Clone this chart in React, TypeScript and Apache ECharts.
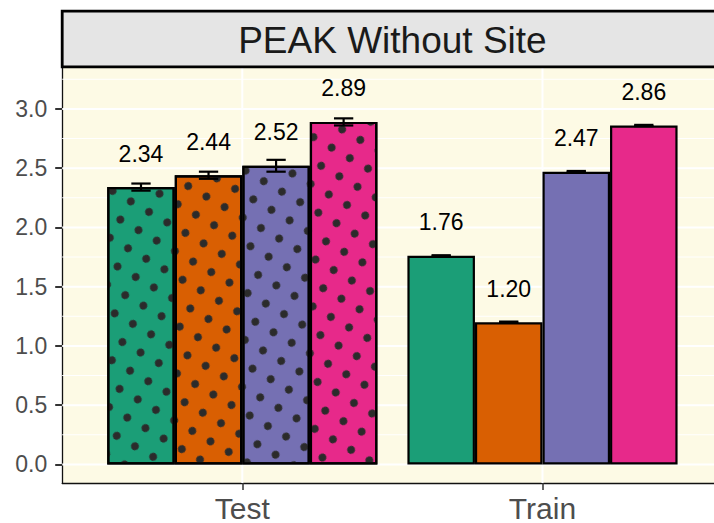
import React, { useEffect, useRef } from 'react';
import * as echarts from 'echarts';

// ---- data ----
const categories = ['Test', 'Train'];
const categoryPositions = [1, 2];
const groupNames = ['Group 1', 'Group 2', 'Group 3', 'Group 4'];
const group1Values = [2.34, 1.76];
const group2Values = [2.44, 1.2];
const group3Values = [2.52, 2.47];
const group4Values = [2.89, 2.86];
const group1Errors = [0.03, 0.005];
const group2Errors = [0.03, 0.005];
const group3Errors = [0.05, 0.006];
const group4Errors = [0.03, 0.005];
const yMajorTicks = [0, 0.5, 1, 1.5, 2, 2.5, 3];
const yMinorTicks = [0.25, 0.75, 1.25, 1.75, 2.25, 2.75, 3.25];
const patternedCategory = 'Test';
const stripTitle = 'PEAK Without Site';

// ---- styling ----
const colors = ['#1B9E77', '#D95F02', '#7570B3', '#E7298A'];
const FONT = "'Liberation Sans', Arial, Helvetica, sans-serif";
const X_MIN = 0.4;
const X_MAX = 2.6;
const Y_MIN = -0.157;
const Y_MAX = 3.345;
const BAR_FRACTION = 0.225;
const PANEL_LEFT = 62.2;
const PANEL_TOP = 68;
const PANEL_WIDTH = 660.4;
const PANEL_HEIGHT = 416;

const allValues = [group1Values, group2Values, group3Values, group4Values];
const allErrors = [group1Errors, group2Errors, group3Errors, group4Errors];

const dotDecal = {
  symbol: 'circle',
  symbolSize: 1,
  color: '#2B2B2B',
  dashArrayX: [8, 13],
  dashArrayY: [8, 13],
  rotation: Math.PI / 6,
};

export default function App() {
  const ref = useRef<HTMLDivElement>(null);

  useEffect(() => {
    if (!ref.current) return;
    const chart = echarts.init(ref.current, undefined, { renderer: 'svg' });

    const barSeries = allValues.map((vals, g) => ({
      type: 'bar',
      name: groupNames[g],
      z: 2,
      barWidth: `${BAR_FRACTION * 100}%`,
      barGap: '0%',
      itemStyle: { color: colors[g], borderColor: '#000', borderWidth: 2.2 },
      label: {
        show: true,
        position: 'top',
        distance: 22,
        fontSize: 23,
        fontFamily: FONT,
        color: '#000',
        formatter: (p: any) => Number(p.value[1]).toFixed(2),
      },
      data: categoryPositions.map((x, i) => ({
        value: [x, vals[i]],
        itemStyle: categories[i] === patternedCategory ? { decal: dotDecal } : { decal: null },
      })),
    }));

    const errorData: number[][] = [];
    allValues.forEach((vals, g) => {
      vals.forEach((v, i) => {
        errorData.push([categoryPositions[i], g, v - allErrors[g][i], v + allErrors[g][i]]);
      });
    });

    const gridH = [
      ...yMinorTicks.map((v) => [v, 0]),
      ...yMajorTicks.map((v) => [v, 1]),
    ];

    const option: any = {
      animation: false,
      textStyle: { fontFamily: FONT },
      grid: {
        left: PANEL_LEFT,
        top: PANEL_TOP,
        width: PANEL_WIDTH,
        height: PANEL_HEIGHT,
        show: true,
        backgroundColor: '#FDFAE5',
        borderWidth: 0,
      },
      xAxis: {
        type: 'value',
        min: X_MIN,
        max: X_MAX,
        splitLine: { show: false },
        axisLine: { show: true, onZero: false, lineStyle: { color: '#111', width: 1.3 } },
        axisTick: { show: true, length: 7, lineStyle: { color: '#333', width: 1.5 }, customValues: categoryPositions },
        axisLabel: {
          customValues: categoryPositions,
          formatter: (v: number) => categories[categoryPositions.indexOf(Math.round(v))] ?? '',
          fontSize: 30,
          color: '#4D4D4D',
          margin: 10,
          fontFamily: FONT,
        },
      },
      yAxis: {
        type: 'value',
        min: Y_MIN,
        max: Y_MAX,
        splitLine: { show: false },
        axisLine: { show: true, onZero: false, lineStyle: { color: '#111', width: 1.3 } },
        axisTick: { show: true, length: 7, lineStyle: { color: '#333', width: 2 }, customValues: yMajorTicks },
        axisLabel: {
          customValues: yMajorTicks,
          formatter: (v: number) => v.toFixed(1),
          fontSize: 23,
          color: '#4D4D4D',
          margin: 15,
          fontFamily: FONT,
        },
      },
      graphic: [
        {
          type: 'group',
          children: [
            {
              type: 'rect',
              shape: { x: PANEL_LEFT, y: 11.2, width: 720, height: 55.6 },
              style: { fill: '#E5E5E5', stroke: '#000', lineWidth: 2.8 },
              z: 10,
            },
            {
              type: 'text',
              x: PANEL_LEFT + PANEL_WIDTH / 2,
              y: 40,
              style: {
                text: stripTitle,
                fontSize: 37,
                fontFamily: FONT,
                fill: '#1A1A1A',
                align: 'center',
                verticalAlign: 'middle',
              },
              z: 11,
            },
          ],
        },
      ],
      series: [
        {
          type: 'custom',
          z: 1,
          silent: true,
          data: gridH,
          renderItem: (params: any, api: any) => {
            const y = api.coord([X_MIN, api.value(0)])[1];
            const cs = params.coordSys;
            return {
              type: 'line',
              shape: { x1: cs.x, y1: y, x2: cs.x + cs.width, y2: y },
              style: { stroke: '#FFFFFF', lineWidth: api.value(1) === 1 ? 2 : 1 },
            };
          },
        },
        {
          type: 'custom',
          z: 1,
          silent: true,
          data: categoryPositions.map((x) => [x, 0]),
          renderItem: (params: any, api: any) => {
            const x = api.coord([api.value(0), 0])[0];
            const cs = params.coordSys;
            return {
              type: 'line',
              shape: { x1: x, y1: cs.y, x2: x, y2: cs.y + cs.height },
              style: { stroke: '#FFFFFF', lineWidth: 2 },
            };
          },
        },
        ...barSeries,
        {
          type: 'custom',
          z: 5,
          silent: true,
          data: errorData,
          renderItem: (params: any, api: any) => {
            const x = api.value(0);
            const g = api.value(1);
            const bw = api.size([BAR_FRACTION, 0])[0];
            const cx = api.coord([x, 0])[0] + (g - 1.5) * bw;
            const yLo = api.coord([x, api.value(2)])[1];
            const yHi = api.coord([x, api.value(3)])[1];
            const half = bw * 0.143;
            const st = { stroke: '#000', lineWidth: 2.2 };
            return {
              type: 'group',
              children: [
                { type: 'line', shape: { x1: cx, y1: yLo, x2: cx, y2: yHi }, style: st },
                { type: 'line', shape: { x1: cx - half, y1: yLo, x2: cx + half, y2: yLo }, style: st },
                { type: 'line', shape: { x1: cx - half, y1: yHi, x2: cx + half, y2: yHi }, style: st },
              ],
            };
          },
        },
      ],
    };

    chart.setOption(option);
    return () => chart.dispose();
  }, []);

  return (
    <div style={{ position: 'fixed', left: 0, top: 0, width: 714, height: 523, overflow: 'hidden', background: '#fff' }}>
      <div ref={ref} style={{ width: 740, height: 523 }} />
    </div>
  );
}
